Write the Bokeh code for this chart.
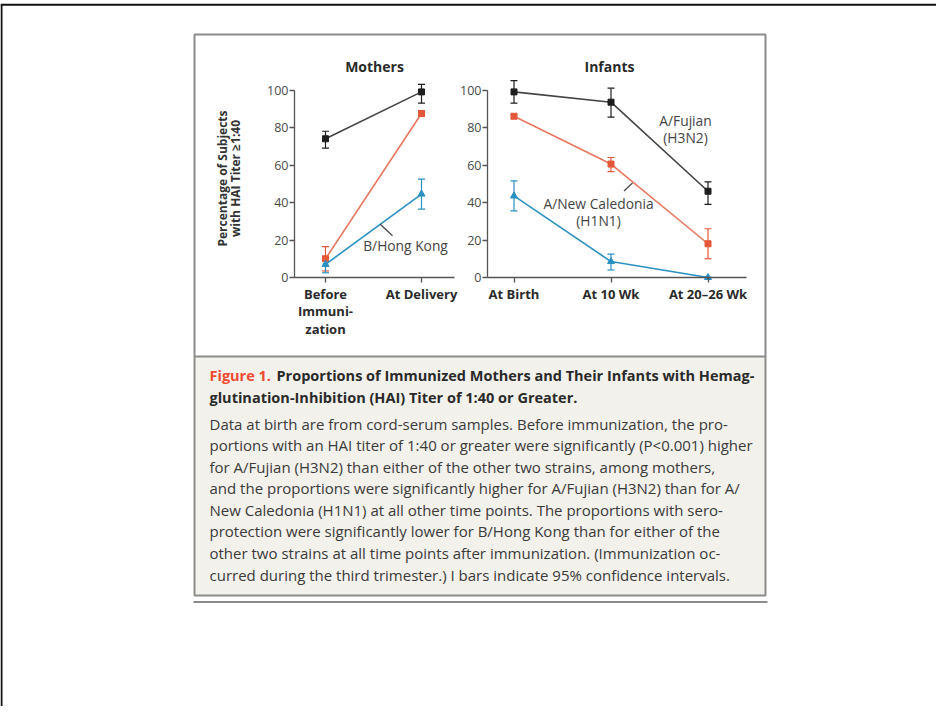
from bokeh.plotting import figure
from bokeh.models import Range1d, LinearAxis, FixedTicker, Whisker, TeeHead, ColumnDataSource
from bokeh.embed import file_html
from bokeh.resources import INLINE
from bokeh.core.properties import value

# ---------------- data ----------------
mother_cats = ["Before\nImmuni-\nzation", "At Delivery"]
infant_cats = ["At Birth", "At 10 Wk", "At 20\u201326 Wk"]
y_ticks = [0, 20, 40, 60, 80, 100]

m_fujian = [74, 99]
m_fujian_lo = [69, 93]
m_fujian_hi = [78, 103]
m_caledonia = [10, 87.5]
m_caledonia_lo = [3.5, 86]
m_caledonia_hi = [16.5, 89]
m_hongkong = [7, 44.5]
m_hongkong_lo = [2.5, 36.5]
m_hongkong_hi = [9.5, 52.5]

i_fujian = [99, 93.5, 46]
i_fujian_lo = [93, 85.5, 39]
i_fujian_hi = [105, 101, 51]
i_caledonia = [86, 60.5, 18]
i_caledonia_lo = [85, 56.5, 10]
i_caledonia_hi = [87, 64, 26]
i_hongkong = [43.5, 8.5, 0]
i_hongkong_lo = [35.5, 4, 0]
i_hongkong_hi = [51.5, 12.5, 0]

panel_titles = ["Mothers", "Infants"]
y_title = ["Percentage of Subjects", "with HAI Titer \u22651:40"]
caption_fig = "Figure 1."
caption_title = ["Proportions of Immunized Mothers and Their Infants with Hemag-",
                 "glutination-Inhibition (HAI) Titer of 1:40 or Greater."]
caption_body = [
    "Data at birth are from cord-serum samples. Before immunization, the pro-",
    "portions with an HAI titer of 1:40 or greater were significantly (P<0.001) higher",
    "for A/Fujian (H3N2) than either of the other two strains, among mothers,",
    "and the proportions were significantly higher for A/Fujian (H3N2) than for A/",
    "New Caledonia (H1N1) at all other time points. The proportions with sero-",
    "protection were significantly lower for B/Hong Kong than for either of the",
    "other two strains at all time points after immunization. (Immunization oc-",
    "curred during the third trimester.) I bars indicate 95% confidence intervals.",
]

# ---------------- styling / layout ----------------
FONT = "Open Sans"
W, H = 936, 706
X0, Y0 = 8, 8  # page offset of the canvas

RED = "#e4573a"
BLUE = "#2a90c4"
GRAY = "#8c8c8c"

p = figure(width=W, height=H, output_backend="svg", toolbar_location=None,
           x_range=Range1d(X0, X0 + W), y_range=Range1d(Y0 + H, Y0),
           x_axis_type=None, y_axis_type=None, min_border=0,
           min_border_left=0, min_border_right=0, min_border_top=0, min_border_bottom=0)
p.outline_line_color = None
p.grid.visible = False
p.background_fill_color = "white"
p.border_fill_color = "white"

# chart scales (pixel anchors -> data ranges)
PY0, PY100 = 285.0, 97.5          # page y of 0 % and 100 %
ppv = (PY0 - PY100) / 100.0
p.extra_y_ranges["pct"] = Range1d(start=(PY0 - (Y0 + H)) / ppv, end=(PY0 - Y0) / ppv)
MX0, MDX = 333.0, 96.0             # mothers first category x, spacing
IX0, IDX = 521.5, 97.0             # infants
p.extra_x_ranges["mx"] = Range1d(start=(X0 - MX0) / MDX, end=(X0 + W - MX0) / MDX)
p.extra_x_ranges["ix"] = Range1d(start=(X0 - IX0) / IDX, end=(X0 + W - IX0) / IDX)

# page frame
p.segment(x0=[X0 + 1], y0=[12.3], x1=[X0 + 1], y1=[Y0 + H], line_color="#111111", line_width=2)
p.segment(x0=[X0], y0=[12.3], x1=[X0 + W], y1=[12.3], line_color="#111111", line_width=2)

# figure panel
p.quad(left=[202], right=[773], top=[364], bottom=[603], fill_color="#f3f1ec", line_color=None)
p.quad(left=[202], right=[773], top=[42], bottom=[603], fill_color=None, line_color=GRAY, line_width=2)
p.segment(x0=[202], y0=[364], x1=[773], y1=[364], line_color=GRAY, line_width=2)
p.segment(x0=[201], y0=[609.5], x1=[775], y1=[609.5], line_color=GRAY, line_width=2)


def axes(xr, x_axis_px, x_end_px, x0, dx, cats):
    yax = LinearAxis(x_range_name=xr, y_range_name="pct",
                     fixed_location=(x_axis_px - x0) / dx, bounds=(0, 100),
                     ticker=FixedTicker(ticks=y_ticks))
    yax.axis_line_color = "#555555"
    yax.axis_line_width = 1.3
    yax.major_tick_line_color = "#555555"
    yax.major_tick_line_width = 1.3
    yax.major_tick_in = 0
    yax.major_tick_out = 5
    yax.minor_tick_line_color = None
    yax.major_label_standoff = 1
    yax.major_label_text_font = FONT
    yax.major_label_text_font_size = "12.5px"
    yax.major_label_text_color = "#4a4a4a"
    p.add_layout(yax, "left")

    xax = LinearAxis(x_range_name=xr, y_range_name="pct", fixed_location=0,
                     bounds=((x_axis_px - x0) / dx, (x_end_px - x0) / dx),
                     ticker=FixedTicker(ticks=list(range(len(cats)))))
    xax.major_label_overrides = {i: c for i, c in enumerate(cats)}
    xax.axis_line_color = "#555555"
    xax.axis_line_width = 1.3
    xax.major_tick_line_color = "#555555"
    xax.major_tick_line_width = 1.3
    xax.major_tick_in = 0
    xax.major_tick_out = 5
    xax.minor_tick_line_color = None
    xax.major_label_standoff = 2
    xax.major_label_text_font = FONT
    xax.major_label_text_font_style = "bold"
    xax.major_label_text_font_size = "13px"
    xax.major_label_text_line_height = 0.98
    xax.major_label_text_color = "#2a2a2a"
    p.add_layout(xax, "below")


axes("mx", 302.0, 462.0, MX0, MDX, mother_cats)
axes("ix", 495.0, 753.5, IX0, IDX, infant_cats)


def series(xr, n, vals, lo, hi, color, line_color, marker, size):
    xs = list(range(n))
    src = ColumnDataSource(dict(x=xs, y=vals, lo=lo, hi=hi))
    p.line("x", "y", source=src, x_range_name=xr, y_range_name="pct",
           line_color=line_color, line_width=1.6)
    w = Whisker(source=src, base="x", lower="lo", upper="hi", dimension="height",
                x_range_name=xr, y_range_name="pct", line_color=color, line_width=1.2,
                upper_head=TeeHead(size=7, line_color=color, line_width=1.2),
                lower_head=TeeHead(size=7, line_color=color, line_width=1.2))
    p.add_layout(w)
    p.scatter("x", "y", source=src, x_range_name=xr, y_range_name="pct",
              marker=marker, size=size, fill_color=color, line_color=color)


series("mx", 2, m_fujian, m_fujian_lo, m_fujian_hi, "#1e1e1e", "#444444", "square", 6)
series("mx", 2, m_caledonia, m_caledonia_lo, m_caledonia_hi, RED, "#e8775f", "square", 6)
series("mx", 2, m_hongkong, m_hongkong_lo, m_hongkong_hi, BLUE, BLUE, "triangle", 7)
series("ix", 3, i_fujian, i_fujian_lo, i_fujian_hi, "#1e1e1e", "#444444", "square", 6)
series("ix", 3, i_caledonia, i_caledonia_lo, i_caledonia_hi, RED, "#e8775f", "square", 6)
series("ix", 3, i_hongkong, i_hongkong_lo, i_hongkong_hi, BLUE, BLUE, "triangle", 7)

# panel titles
p.text(x=[382, 617], y=[74, 74], text=panel_titles, text_font=value(FONT),
       text_font_style="bold", text_font_size="14px", text_color="#2a2a2a",
       text_align="center", text_baseline="middle")

# y axis title (rotated)
p.text(x=[230, 243], y=[186, 186], text=y_title, angle=1.5708, text_font=value(FONT),
       text_font_style="bold", text_font_size="12px", text_color="#333333",
       text_align="center", text_baseline="middle")

# series labels with leaders
p.text(x=[413, 606, 606, 693, 693], y=[253, 211, 228, 127.5, 145],
       text=["B/Hong Kong", "A/New Caledonia", "(H1N1)", "A/Fujian", "(H3N2)"],
       text_font=value(FONT), text_font_size="13.8px", text_color="#444444",
       text_align="center", text_baseline="middle")
p.segment(x0=[387.7, 640], y0=[231.7, 190.5], x1=[400, 631.5], y1=[243.3, 198.5],
          line_color="#444444", line_width=1.2)

# caption
p.text(x=[217], y=[383], text=[caption_fig], text_font=value(FONT), text_font_style="bold",
       text_font_size="14.5px", text_color="#ee4a30", text_align="left", text_baseline="middle")
p.text(x=[284, 217], y=[383, 405], text=caption_title, text_font=value(FONT),
       text_font_style="bold", text_font_size="14.5px", text_color="#2a2a2a",
       text_align="left", text_baseline="middle")
body_y = [431, 452.5, 474, 495.5, 517, 538.5, 560.5, 582]
p.text(x=[217] * len(caption_body), y=body_y, text=caption_body, text_font=value(FONT),
       text_font_size="15px", text_color="#3a3a3a", text_align="left", text_baseline="middle")

open("out.html", "w").write(file_html(p, INLINE))
